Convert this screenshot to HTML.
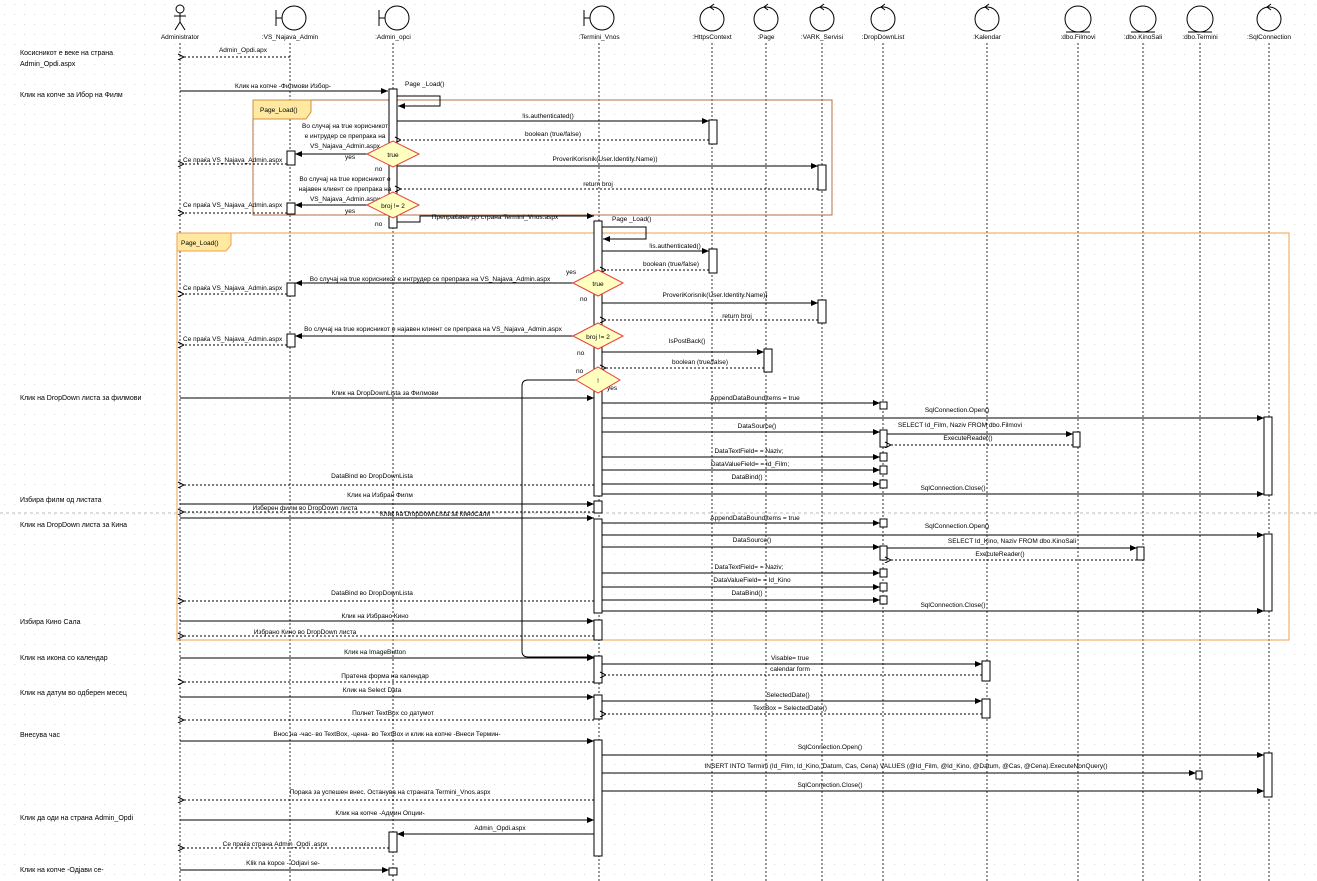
<!DOCTYPE html>
<html><head><meta charset="utf-8"><style>
html,body{margin:0;padding:0;background:#fff}
svg{display:block;font-family:"Liberation Sans",sans-serif;font-size:6.5px}
.l{stroke:#000;stroke-width:1;fill:none}
.m{stroke:#000;stroke-width:1;fill:none;marker-end:url(#a)}
.r{stroke:#000;stroke-width:1;stroke-dasharray:2,2;fill:none;marker-end:url(#o)}
.ll{stroke:#000;stroke-width:.8;stroke-dasharray:2,2}
.b{fill:#fff;stroke:#000;stroke-width:1}
.d{fill:#ffffc0;stroke:#e8403a;stroke-width:1}
.n{font-size:7px}
text{fill:#000}
.c{text-anchor:middle}
</style></head><body>
<svg width="1317" height="881" viewBox="0 0 1317 881">
<defs>
<pattern id="g" width="10" height="10" patternUnits="userSpaceOnUse"><rect x="4" y="4" width="1" height="1" fill="#d8d8d8"/></pattern>
<marker id="a" markerWidth="8" markerHeight="8" refX="7" refY="3" orient="auto" markerUnits="userSpaceOnUse"><path d="M0,0L7,3L0,6z" fill="#000"/></marker>
<marker id="o" markerWidth="8" markerHeight="8" refX="0" refY="3" orient="auto-start-reverse" markerUnits="userSpaceOnUse"><path d="M6,0L0,3L6,6" fill="none" stroke="#000"/></marker>
</defs>
<rect width="1317" height="881" fill="url(#g)"/>
<line x1="0" y1="513" x2="1317" y2="513" stroke="#bbb" stroke-dasharray="3,3"/>

<!-- header icons -->
<g class="l">
<circle cx="180" cy="9" r="4"/><path d="M180,13V22M174,16H186M180,22L175,30M180,22L185,30"/>
<circle cx="294" cy="18" r="12"/><path d="M276,10V26M276,18H282"/>
<circle cx="397" cy="18" r="12"/><path d="M379,10V26M379,18H385"/>
<circle cx="602" cy="18" r="12"/><path d="M584,10V26M584,18H590"/>
<circle cx="712" cy="19" r="12"/><path d="M714,4L710,7L714,10"/>
<circle cx="766" cy="19" r="12"/><path d="M768,4L764,7L768,10"/>
<circle cx="822" cy="19" r="12"/><path d="M824,4L820,7L824,10"/>
<circle cx="883" cy="19" r="12"/><path d="M885,4L881,7L885,10"/>
<circle cx="987" cy="19" r="12"/><path d="M989,4L985,7L989,10"/>
<circle cx="1269" cy="19" r="12"/><path d="M1271,4L1267,7L1271,10"/>
<circle cx="1078" cy="19" r="13"/><path d="M1066,32H1090"/>
<circle cx="1143" cy="19" r="13"/><path d="M1131,32H1155"/>
<circle cx="1200" cy="19" r="13"/><path d="M1188,32H1212"/>
</g>
<g class="c">
<text x="180" y="39">Administrator</text><text x="290" y="39">:VS_Najava_Admin</text><text x="393" y="39">:Admin_opci</text><text x="599" y="39">:Termini_Vnos</text>
<text x="712" y="39">:HttpsContext</text><text x="766" y="39">:Page</text><text x="822" y="39">:VARK_Servisi</text><text x="883" y="39">:DropDownList</text><text x="987" y="39">:Kalendar</text><text x="1078" y="39">:dbo.Filmovi</text><text x="1143" y="39">:dbo.KinoSali</text><text x="1200" y="39">:dbo.Termini</text><text x="1269" y="39">:SqlConnection</text>
</g>
<!-- lifelines -->
<g class="ll">
<line x1="180" y1="43" x2="180" y2="881"/><line x1="290" y1="43" x2="290" y2="881"/><line x1="393" y1="43" x2="393" y2="881"/><line x1="599" y1="43" x2="599" y2="881"/><line x1="712" y1="43" x2="712" y2="881"/><line x1="766" y1="43" x2="766" y2="881"/><line x1="822" y1="43" x2="822" y2="881"/><line x1="883" y1="43" x2="883" y2="881"/><line x1="987" y1="43" x2="987" y2="881"/><line x1="1078" y1="43" x2="1078" y2="881"/><line x1="1143" y1="43" x2="1143" y2="881"/><line x1="1200" y1="43" x2="1200" y2="881"/><line x1="1269" y1="43" x2="1269" y2="881"/>
</g>

<!-- left notes -->
<g class="n">
<text x="20" y="55">Косисникот е веке на страна</text><text x="20" y="66">Admin_Opdi.aspx</text>
<text x="20" y="97">Клик на копче за Ибор на Филм</text>
<text x="20" y="400">Клик на DropDown листа за филмови</text>
<text x="20" y="502">Избира филм од листата</text>
<text x="20" y="527">Клик на DropDown листа за Кина</text>
<text x="20" y="624">Избира Кино Сала</text>
<text x="20" y="660">Клик на икона со календар</text>
<text x="20" y="695">Клик на датум во одберен месец</text>
<text x="20" y="737">Внесува час</text>
<text x="20" y="820">Клик да оди на  страна Admin_Opdi</text>
<text x="20" y="872">Клик на копче -Одјави се-</text>
</g>

<!-- frames -->
<rect x="253" y="100" width="579" height="115" fill="none" stroke="#b07040"/>
<path d="M253,100H311V112L306,119H253Z" fill="#ffe8a0" stroke="#d09040"/><text x="260" y="112">Page_Load()</text>
<rect x="177" y="233" width="1112" height="407" fill="none" stroke="#f0a050"/>
<path d="M177,233H231V245L226,251H177Z" fill="#ffe8a0" stroke="#f0a050"/><text x="181" y="245">Page_Load()</text>

<!-- activations -->
<g class="b">
<rect x="389" y="89" width="8" height="139"/>
<rect x="709" y="120" width="8" height="24"/><rect x="818" y="165" width="8" height="25"/>
<rect x="287" y="151" width="8" height="14"/><rect x="287" y="203" width="8" height="11"/>
<rect x="594" y="221" width="8" height="275"/>
<rect x="709" y="249" width="8" height="24"/><rect x="818" y="300" width="8" height="23"/>
<rect x="287" y="283" width="8" height="13"/><rect x="287" y="334" width="8" height="13"/>
<rect x="764" y="349" width="8" height="23"/>
<rect x="1264" y="417" width="8" height="78"/>
<rect x="880" y="402" width="7" height="7"/><rect x="880" y="430" width="7" height="17"/><rect x="1073" y="432" width="7" height="15"/>
<rect x="880" y="453" width="7" height="8"/><rect x="880" y="466" width="7" height="8"/><rect x="880" y="480" width="7" height="8"/>
<rect x="594" y="501" width="8" height="12"/>
<rect x="594" y="519" width="8" height="94"/>
<rect x="1264" y="534" width="8" height="77"/>
<rect x="880" y="519" width="7" height="8"/><rect x="880" y="546" width="7" height="14"/><rect x="1137" y="547" width="7" height="13"/>
<rect x="880" y="569" width="7" height="8"/><rect x="880" y="583" width="7" height="8"/><rect x="880" y="596" width="7" height="8"/>
<rect x="594" y="620" width="8" height="20"/>
<rect x="594" y="656" width="8" height="27"/><rect x="982" y="661" width="8" height="20"/>
<rect x="594" y="695" width="8" height="24"/><rect x="982" y="699" width="8" height="19"/>
<rect x="594" y="740" width="8" height="116"/><rect x="1264" y="753" width="8" height="44"/><rect x="1196" y="771" width="6" height="8"/>
<rect x="389" y="832" width="8" height="20"/><rect x="389" y="868" width="8" height="7"/>
</g>

<!-- messages -->
<path class="r" d="M290,57H184"/><text class="c" x="243" y="52">Admin_Opdi.apx</text>
<path class="m" d="M180,91H388"/><text class="c" x="283" y="88">Клик на копче -Филмови Избор-</text>
<path class="m" d="M397,96H440V106H398"/><text x="405" y="86">Page _Load()</text>
<path class="m" d="M397,121H709"/><text class="c" x="548" y="118">!is.authenticated()</text>
<path class="r" d="M709,140H401"/><text class="c" x="553" y="136">boolean (true/false)</text>
<g class="c"><text x="345" y="128">Во случај на true корисникот</text><text x="345" y="138">е интрудер се препрака на</text><text x="345" y="148">VS_Najava_Admin.aspx</text>
<text x="345" y="181">Во случај на true корисникот е</text><text x="345" y="191">најавен клиент се препрака на</text><text x="345" y="201">VS_Najava_Admin.aspx</text></g>
<path class="m" d="M367,154H295"/><text x="345" y="159">yes</text>
<path class="r" d="M287,164H184"/><text x="183" y="162">Ce праќа VS_Najava_Admin.aspx</text>
<text x="375" y="171">no</text>
<path class="m" d="M397,166H818"/><text class="c" x="605" y="161">ProveriKorisnik(User.Identity.Name))</text>
<path class="r" d="M818,189H401"/><text class="c" x="598" y="186">return broj</text>
<path class="m" d="M367,205H295"/><text x="345" y="213">yes</text>
<path class="r" d="M287,213H184"/><text x="183" y="207">Ce праќа VS_Najava_Admin.aspx</text>
<text x="375" y="226">no</text>
<path class="m" d="M397,222H420V216H594"/><text class="c" x="495" y="219">Препраќање до страна Termini_Vnos.aspx</text>
<path class="m" d="M602,227H646V239H603"/><text x="612" y="221">Page _Load()</text>
<path class="m" d="M602,251H709"/><text class="c" x="675" y="248">!is.authenticated()</text>
<path class="r" d="M709,270H606"/><text class="c" x="671" y="266">boolean (true/false)</text>
<text x="566" y="274">yes</text>
<path class="m" d="M573,283H295"/><text class="c" x="430" y="281">Во случај на true корисникот е интрудер се препрака на VS_Najava_Admin.aspx</text>
<path class="r" d="M287,294H184"/><text x="183" y="290">Ce праќа VS_Najava_Admin.aspx</text>
<text x="580" y="301">no</text>
<path class="m" d="M602,303H818"/><text class="c" x="715" y="297">ProveriKorisnik(User.Identity.Name))</text>
<path class="r" d="M818,320H606"/><text class="c" x="737" y="318">return broj</text>
<path class="m" d="M573,336H295"/><text class="c" x="433" y="331">Во случај на true корисникот е најавен клиент се препрака на VS_Najava_Admin.aspx</text>
<path class="r" d="M287,345H184"/><text x="183" y="341">Ce праќа VS_Najava_Admin.aspx</text>
<text x="577" y="355">no</text>
<path class="m" d="M602,352H764"/><text class="c" x="687" y="343">IsPostBack()</text>
<path class="r" d="M764,368H606"/><text class="c" x="700" y="364">boolean (true/false)</text>
<text x="576" y="373">no</text><text x="607" y="390">yes</text>
<path class="m" d="M576,380H528Q522,380 522,386V651Q522,657 528,657H594"/>
<path class="m" d="M180,398H594"/><text class="c" x="385" y="395">Клик на DropDownLista за Филмови</text>
<path class="m" d="M602,403H880"/><text class="c" x="755" y="400">AppendDataBoundItems = true</text>
<path class="m" d="M602,418H1264"/><text class="c" x="957" y="412">SqlConnection.Open()</text>
<path class="m" d="M602,432H880"/><text class="c" x="757" y="428">DataSource()</text>
<path class="m" d="M887,434H1073"/><text class="c" x="960" y="427">SELECT Id_Film, Naziv FROM dbo.Filmovi</text>
<path class="r" d="M1073,445H891"/><text class="c" x="968" y="440">ExecuteReader()</text>
<path class="m" d="M602,457H880"/><text class="c" x="749" y="453">DataTextField= = Naziv;</text>
<path class="m" d="M602,470H880"/><text class="c" x="750" y="466">DataValueField= = Id_Film;</text>
<path class="m" d="M602,484H880"/><text class="c" x="747" y="479">DataBind()</text>
<path class="r" d="M594,485H184"/><text class="c" x="372" y="478">DataBind во DropDownLista</text>
<path class="m" d="M602,494H1264"/><text class="c" x="953" y="490">SqlConnection.Close()</text>
<path class="m" d="M180,504H594"/><text class="c" x="380" y="497">Клик на Избран Филм</text>
<path class="r" d="M594,512H184"/><text class="c" x="305" y="510">Избеpен филм во DropDown листа</text>
<path class="m" d="M180,518H594"/><text class="c" x="435" y="516">Клик на DropDownLista за КиноСали</text>
<path class="m" d="M602,523H880"/><text class="c" x="755" y="520">AppendDataBoundItems = true</text>
<path class="m" d="M602,535H1264"/><text class="c" x="957" y="528">SqlConnection.Open()</text>
<path class="m" d="M602,547H880"/><text class="c" x="752" y="542">DataSource()</text>
<path class="m" d="M887,548H1137"/><text class="c" x="1012" y="543">SELECT Id_Kino, Naziv FROM dbo.KinoSali</text>
<path class="r" d="M1137,560H891"/><text class="c" x="1000" y="556">ExecuteReader()</text>
<path class="m" d="M602,573H880"/><text class="c" x="749" y="569">DataTextField= = Naziv;</text>
<path class="m" d="M602,587H880"/><text class="c" x="752" y="582">DataValueField= = Id_Kino</text>
<path class="m" d="M602,600H880"/><text class="c" x="747" y="595">DataBind()</text>
<path class="r" d="M594,601H184"/><text class="c" x="372" y="595">DataBind во DropDownLista</text>
<path class="m" d="M602,611H1264"/><text class="c" x="953" y="607">SqlConnection.Close()</text>
<path class="m" d="M180,621H594"/><text class="c" x="375" y="618">Клик на Избрано Кино</text>
<path class="r" d="M594,636H184"/><text class="c" x="305" y="634">Избрано Кино во DropDown листа</text>
<path class="m" d="M180,658H594"/><text class="c" x="375" y="654">Клик на ImageButton</text>
<path class="m" d="M602,664H982"/><text class="c" x="790" y="660">Visable= true</text>
<path class="r" d="M982,675H606"/><text class="c" x="790" y="671">calendar form</text>
<path class="r" d="M594,682H184"/><text class="c" x="385" y="678">Пратена форма на календар</text>
<path class="m" d="M180,697H594"/><text class="c" x="372" y="692">Клик на Select Data</text>
<path class="m" d="M602,701H982"/><text class="c" x="788" y="697">SelectedDate()</text>
<path class="r" d="M982,714H606"/><text class="c" x="790" y="710">TextBox = SelectedDate()</text>
<path class="r" d="M594,720H184"/><text class="c" x="393" y="715">Полнет TextBox со датумот</text>
<path class="m" d="M180,741H594"/><text class="c" x="387" y="736">Внос на -час- во TextBox, -цена- во TextBox и клик на копче -Внеси Термин-</text>
<path class="m" d="M602,755H1264"/><text class="c" x="830" y="749">SqlConnection.Open()</text>
<path class="m" d="M602,773H1196"/><text class="c" x="906" y="768">INSERT INTO Termini (Id_Film, Id_Kino, Datum, Cas, Cena) VALUES (@Id_Film, @Id_Kino, @Datum, @Cas, @Cena).ExecuteNonQuery()</text>
<path class="m" d="M602,791H1264"/><text class="c" x="830" y="787">SqlConnection.Close()</text>
<path class="r" d="M594,800H184"/><text class="c" x="390" y="794">Порака за успешен внес. Останува на страната Termini_Vnos.aspx</text>
<path class="m" d="M180,820H594"/><text class="c" x="380" y="815">Клик на копче -Админ Опции-</text>
<path class="m" d="M594,834H397"/><text class="c" x="500" y="830">Admin_Opdi.aspx</text>
<path class="r" d="M389,848H184"/><text class="c" x="275" y="846">Се праќа страна Admin_Opdi .aspx</text>
<path class="m" d="M180,870H389"/><text class="c" x="283" y="865">Klik na kopce - Odjavi se-</text>

<!-- decision diamonds -->
<path class="d" d="M367,154L393,141L419,154L393,167Z"/><text class="c" x="393" y="157">true</text>
<path class="d" d="M367,205L393,192L419,205L393,218Z"/><text class="c" x="393" y="208">broj != 2</text>
<path class="d" d="M573,283L598,270L623,283L598,296Z"/><text class="c" x="598" y="286">true</text>
<path class="d" d="M573,336L598,323L623,336L598,349Z"/><text class="c" x="598" y="339">broj != 2</text>
<path class="d" d="M576,380L598,367L620,380L598,393Z"/><text class="c" x="598" y="383">!</text>
</svg>
</body></html>
